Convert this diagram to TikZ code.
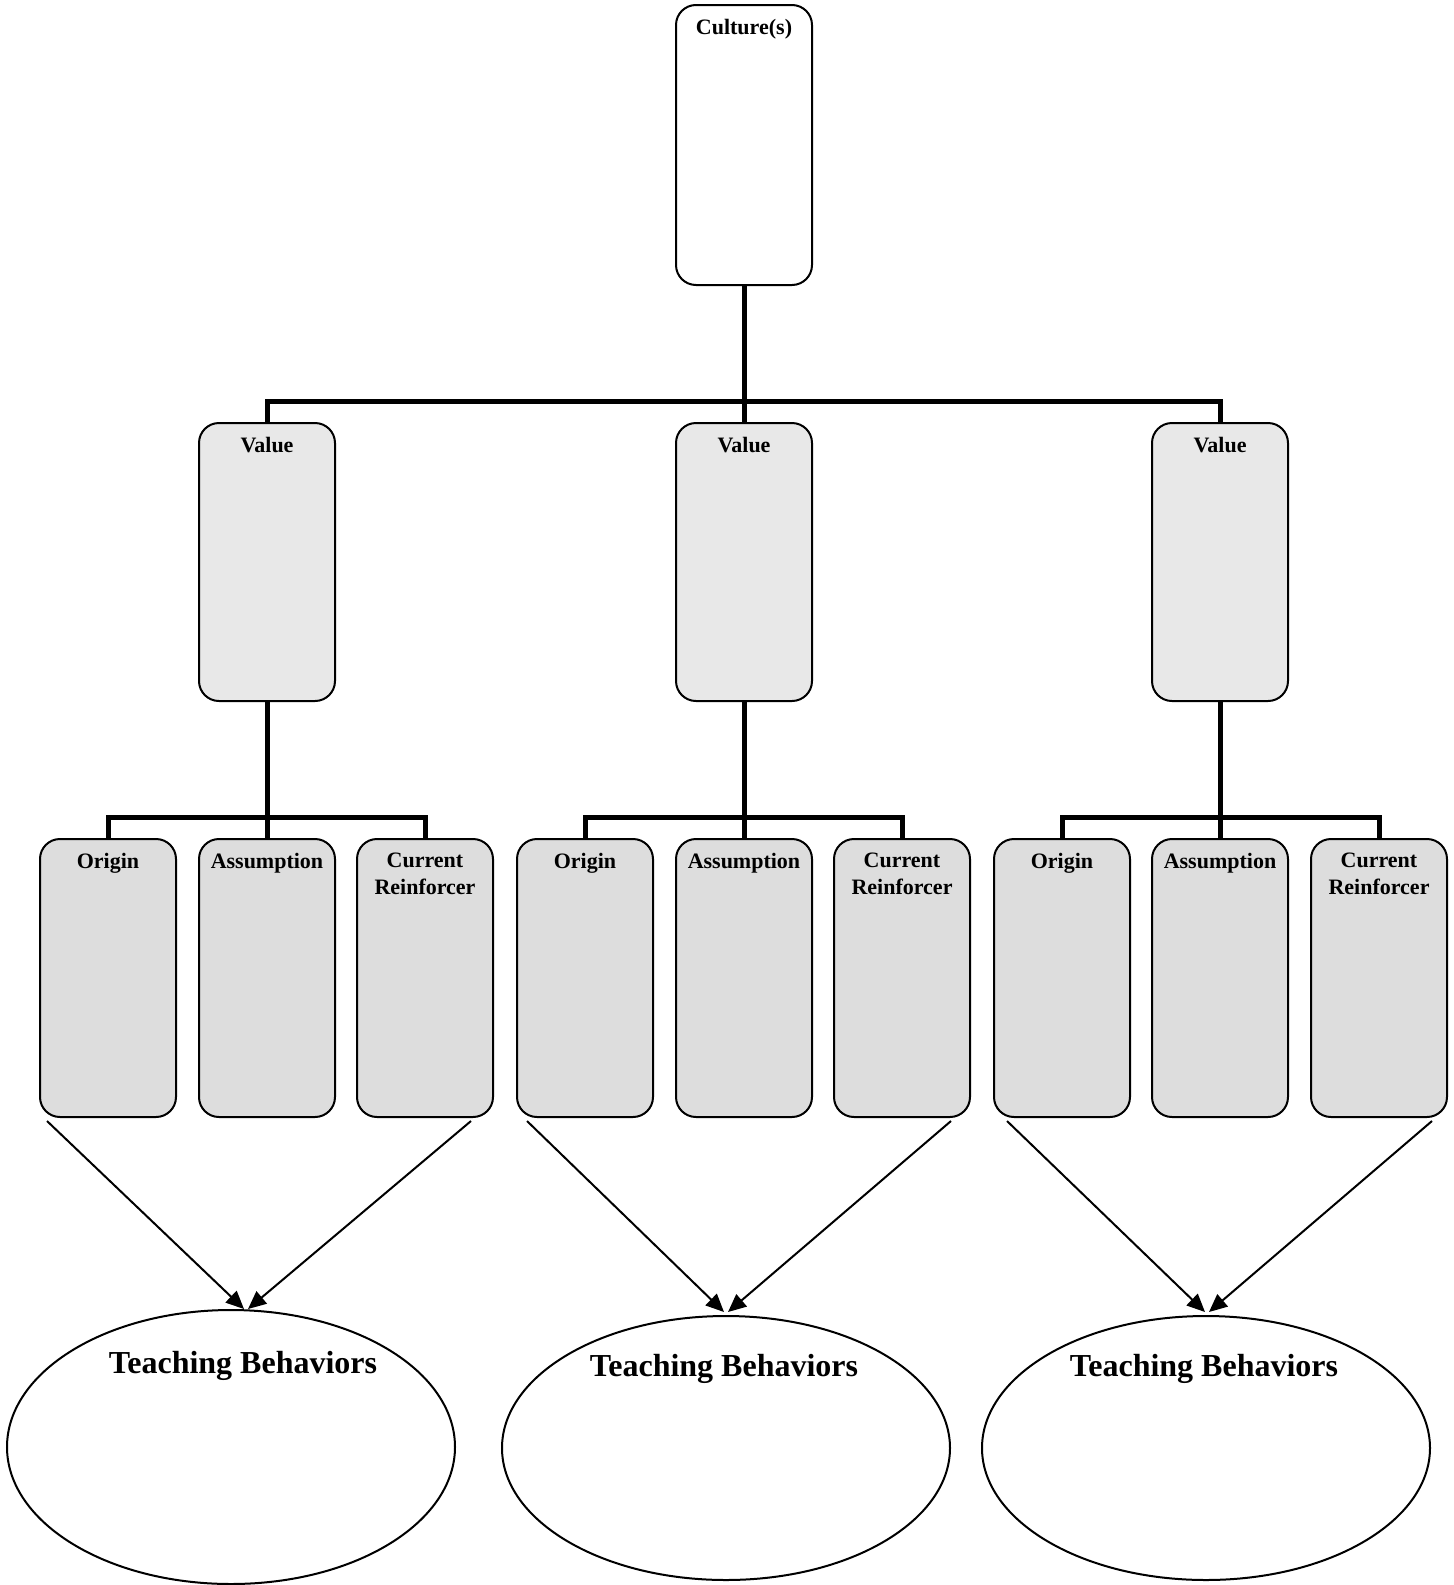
\documentclass[tikz,border=0pt]{standalone}
\usepackage{fontspec}
\setmainfont{Liberation Serif}
\usetikzlibrary{shapes, positioning, arrows.meta}

\definecolor{valuegray}{RGB}{232,232,232}
\definecolor{partgray}{RGB}{221,221,221}

\tikzset{
    box/.style={draw, line width=1pt, rounded corners=10pt, minimum width=68pt, minimum height=139pt, inner sep=0pt},
    boxtext/.style={anchor=north, yshift=-4pt, align=center, font=\bfseries\fontsize{11}{13.5}\selectfont},
    tree/.style={line width=2.5pt},
    behave/.style={draw, ellipse, line width=1pt, minimum width=224pt, minimum height=132pt},
    behavetext/.style={anchor=north, font=\bfseries\fontsize{16}{19}\selectfont},
    link/.style={->, line width=1pt}
}

\begin{document}
\begin{tikzpicture}[x=0.5pt, y=-0.5pt, >={Triangle[length=9pt, width=8pt]}]
    \useasboundingbox (0,0) rectangle (1453,1585);

    % Culture
    \node[box, minimum height=140pt, label={[boxtext]north:Culture(s)}] (culture) at (744,145) {};

    % Values
    \node[box, fill=valuegray, label={[boxtext]north:Value}] (value1) at (267,562) {};
    \node[box, fill=valuegray, label={[boxtext]north:Value}] (value2) at (744,562) {};
    \node[box, fill=valuegray, label={[boxtext]north:Value}] (value3) at (1220,562) {};

    % Parts of the first value
    \node[box, fill=partgray, label={[boxtext]north:Origin}] (origin1) at (108,978) {};
    \node[box, fill=partgray, label={[boxtext]north:Assumption}] (assume1) at (267,978) {};
    \node[box, fill=partgray, label={[boxtext]north:Current\\Reinforcer}] (reinf1) at (425,978) {};

    % Parts of the second value
    \node[box, fill=partgray, label={[boxtext]north:Origin}] (origin2) at (585,978) {};
    \node[box, fill=partgray, label={[boxtext]north:Assumption}] (assume2) at (744,978) {};
    \node[box, fill=partgray, label={[boxtext]north:Current\\Reinforcer}] (reinf2) at (902,978) {};

    % Parts of the third value
    \node[box, fill=partgray, label={[boxtext]north:Origin}] (origin3) at (1062,978) {};
    \node[box, fill=partgray, label={[boxtext]north:Assumption}] (assume3) at (1220,978) {};
    \node[box, fill=partgray, label={[boxtext]north:Current\\Reinforcer}] (reinf3) at (1379,978) {};

    % Teaching behaviors
    \node[behave, minimum height=137pt, label={[behavetext, xshift=6pt, yshift=-17.5pt]north:Teaching Behaviors}] (behave1) at (231,1447) {};
    \node[behave, label={[behavetext, xshift=-1pt, yshift=-16pt]north:Teaching Behaviors}] (behave2) at (726,1448) {};
    \node[behave, label={[behavetext, xshift=-1pt, yshift=-16pt]north:Teaching Behaviors}] (behave3) at (1206,1448) {};

    % Tree lines
    \coordinate (bar0) at (744,401);
    \coordinate (bar1) at (267,817);
    \coordinate (bar2) at (744,817);
    \coordinate (bar3) at (1220,817);

    \draw[tree] (culture) -- (value2);
    \draw[tree] (value1.north) |- (bar0) -| (value3.north);

    \draw[tree] (value1) -- (assume1);
    \draw[tree] (origin1.north) |- (bar1) -| (reinf1.north);
    \draw[tree] (value2) -- (assume2);
    \draw[tree] (origin2.north) |- (bar2) -| (reinf2.north);
    \draw[tree] (value3) -- (assume3);
    \draw[tree] (origin3.north) |- (bar3) -| (reinf3.north);

    % Arrows to behaviors
    \draw[link] ([xshift=4pt, yshift=-1.5pt]origin1.south west) -- ([xshift=6.5pt]behave1.north);
    \draw[link] ([xshift=-11.5pt, yshift=-1.5pt]reinf1.south east) -- ([xshift=8.5pt]behave1.north);
    \draw[link] ([xshift=5.5pt, yshift=-1.5pt]origin2.south west) -- ([xshift=-1pt, yshift=1.5pt]behave2.north);
    \draw[link] ([xshift=-10pt, yshift=-1.5pt]reinf2.south east) -- ([xshift=1pt, yshift=1.5pt]behave2.north);
    \draw[link] ([xshift=7pt, yshift=-1.5pt]origin3.south west) -- ([xshift=-0.5pt, yshift=1.5pt]behave3.north);
    \draw[link] ([xshift=-8pt, yshift=-1.5pt]reinf3.south east) -- ([xshift=1.5pt, yshift=1.5pt]behave3.north);

\end{tikzpicture}
\end{document}
